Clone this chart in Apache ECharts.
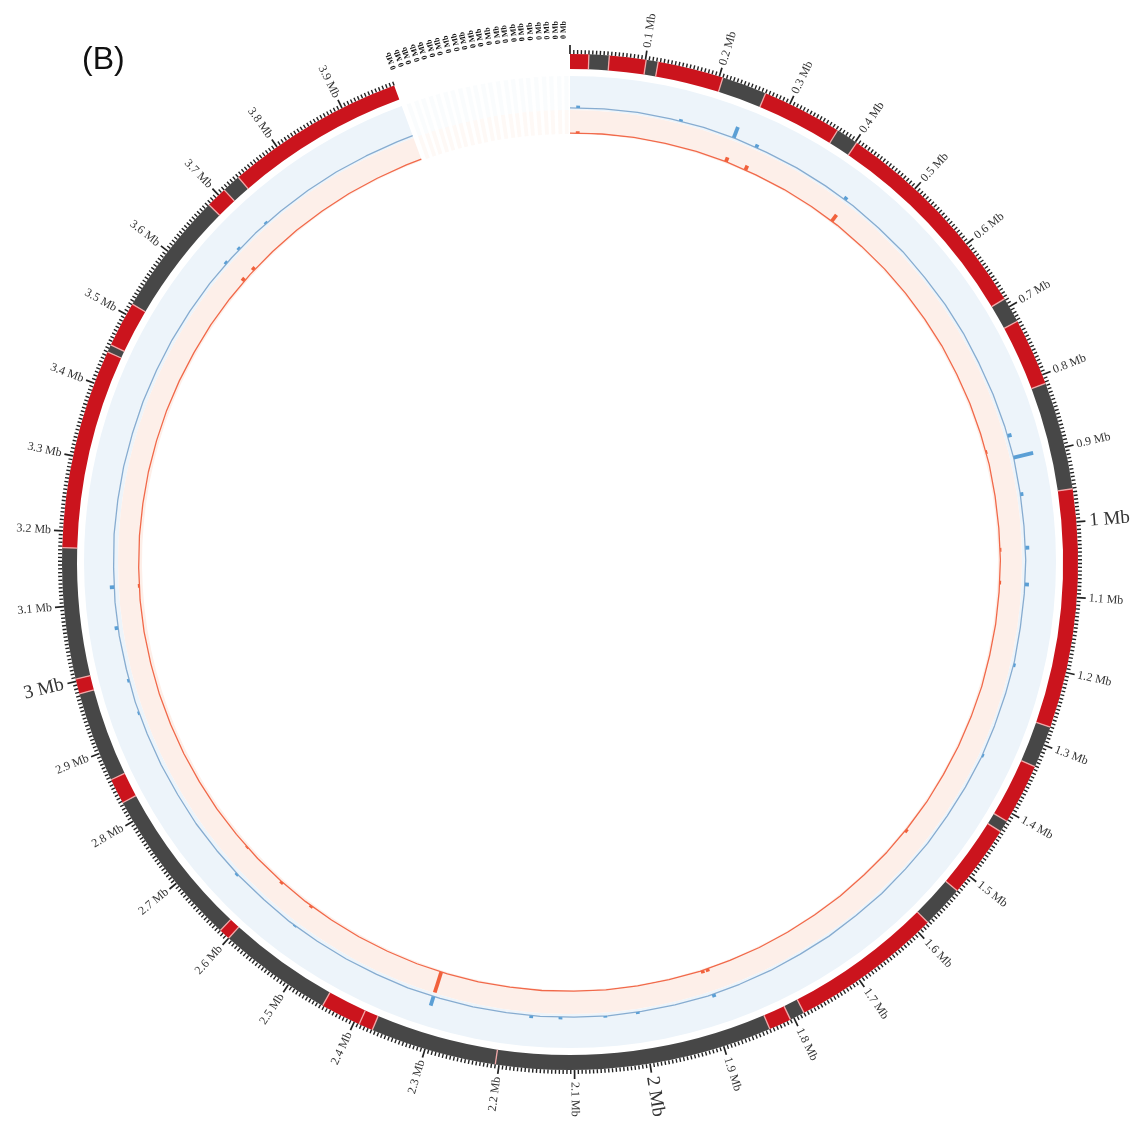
<!DOCTYPE html>
<html>
<head>
<meta charset="utf-8">
<title>Genome circle plot</title>
<script src="https://cdn.jsdelivr.net/npm/echarts@6/dist/echarts.min.js"></script>
<style>
  html, body { margin: 0; padding: 0; background: #ffffff; }
  #chart { width: 1143px; height: 1128px; }
</style>
</head>
<body>
<div id="chart"></div>
<script>
// ---- genome layout (Mb) ----
const TURN_MB = 4.212;      // genome coordinate mapped onto one full turn
const GENOME_END = 3.975;   // end of the main chromosome

// ideogram blocks: start positions (each block ends where the next starts) and colour class
const blockStart = [0, 0.025, 0.052, 0.101, 0.117, 0.205, 0.265, 0.372, 0.402, 0.688,
  0.722, 0.812, 0.956, 1.275, 1.331, 1.412, 1.428, 1.525, 1.582, 1.785,
  1.805, 1.835, 2.205, 2.374, 2.393, 2.447, 2.600, 2.615, 2.828, 2.862,
  2.983, 3.003, 3.178, 3.445, 3.455, 3.516, 3.682, 3.710, 3.735];
const blockKind = ['R', 'D', 'R', 'D', 'R', 'D', 'R', 'D', 'R', 'D',
  'R', 'D', 'R', 'D', 'R', 'D', 'R', 'D', 'R', 'D',
  'R', 'D', 'D', 'R', 'R', 'D', 'R', 'D', 'R', 'D',
  'R', 'D', 'R', 'D', 'R', 'D', 'R', 'D', 'R'];

// labelled ticks
const tickLabelMb = [0.1, 0.2, 0.3, 0.4, 0.5, 0.6, 0.7, 0.8, 0.9, 1.0,
  1.1, 1.2, 1.3, 1.4, 1.5, 1.6, 1.7, 1.8, 1.9, 2.0,
  2.1, 2.2, 2.3, 2.4, 2.5, 2.6, 2.7, 2.8, 2.9, 3.0,
  3.1, 3.2, 3.3, 3.4, 3.5, 3.6, 3.7, 3.8, 3.9];
const tickLabels = ['0.1 Mb', '0.2 Mb', '0.3 Mb', '0.4 Mb', '0.5 Mb', '0.6 Mb', '0.7 Mb', '0.8 Mb', '0.9 Mb', '1 Mb',
  '1.1 Mb', '1.2 Mb', '1.3 Mb', '1.4 Mb', '1.5 Mb', '1.6 Mb', '1.7 Mb', '1.8 Mb', '1.9 Mb', '2 Mb',
  '2.1 Mb', '2.2 Mb', '2.3 Mb', '2.4 Mb', '2.5 Mb', '2.6 Mb', '2.7 Mb', '2.8 Mb', '2.9 Mb', '3 Mb',
  '3.1 Mb', '3.2 Mb', '3.3 Mb', '3.4 Mb', '3.5 Mb', '3.6 Mb', '3.7 Mb', '3.8 Mb', '3.9 Mb'];

// small contigs placed after the chromosome
const smallContigMb = [3.982, 3.993, 4.003, 4.014, 4.024, 4.035, 4.045, 4.056, 4.067, 4.077, 4.088,
  4.098, 4.109, 4.120, 4.130, 4.141, 4.151, 4.162, 4.173, 4.183, 4.194, 4.204];
const smallContigLen = 0.006;
const smallContigLabel = '0 Mb';

// ---- data tracks: 0.05 Mb windows ----
const windowMb = [];
for (let i = 0; i < 80; i++) windowMb.push(+(i * 0.05).toFixed(2));
windowMb.push(GENOME_END);

// outer (blue) track, windows
const blueTrack = [0.06, 0.07, 0.08, 0.07, 0.08, 0.08, 0.07, 0.08, 0.08, 0.09,
  0.08, 0.09, 0.08, 0.09, 0.09, 0.08, 0.09, 0.10, 0.11, 0.10,
  0.10, 0.11, 0.10, 0.09, 0.10, 0.09, 0.09, 0.10, 0.09, 0.08,
  0.09, 0.08, 0.09, 0.08, 0.09, 0.08, 0.09, 0.09, 0.10, 0.09,
  0.09, 0.10, 0.09, 0.10, 0.09, 0.10, 0.10, 0.11, 0.10, 0.11,
  0.11, 0.12, 0.11, 0.12, 0.12, 0.13, 0.12, 0.13, 0.13, 0.14,
  0.13, 0.14, 0.14, 0.13, 0.14, 0.13, 0.13, 0.12, 0.12, 0.11,
  0.11, 0.10, 0.10, 0.09, 0.09, 0.08, 0.08, 0.08, 0.07, 0.07, 0.07];
// outer track peaks
const blueSpikeMb = [0.012, 0.165, 0.247, 0.283, 0.435, 0.865, 0.898, 0.953, 1.032, 1.086,
  1.206, 1.347, 1.891, 2.006, 2.054, 2.120, 2.163, 2.310, 2.540, 2.654,
  2.933, 2.983, 3.062, 3.122, 3.639, 3.667, 3.722];
const blueSpikeVal = [0.13, 0.13, 0.42, 0.17, 0.18, 0.22, 0.70, 0.19, 0.22, 0.22,
  0.16, 0.15, 0.19, 0.15, 0.15, 0.16, 0.17, 0.38, 0.15, 0.18,
  0.18, 0.19, 0.24, 0.26, 0.16, 0.16, 0.14];

// inner (red) track, windows
const redTrack = [0.04, 0.05, 0.06, 0.06, 0.07, 0.07, 0.06, 0.07, 0.07, 0.08,
  0.07, 0.08, 0.08, 0.08, 0.09, 0.08, 0.09, 0.09, 0.10, 0.09,
  0.09, 0.10, 0.09, 0.09, 0.08, 0.09, 0.08, 0.08, 0.07, 0.08,
  0.07, 0.07, 0.06, 0.07, 0.06, 0.06, 0.06, 0.05, 0.06, 0.05,
  0.05, 0.06, 0.05, 0.06, 0.06, 0.07, 0.07, 0.08, 0.08, 0.09,
  0.09, 0.10, 0.10, 0.11, 0.11, 0.12, 0.12, 0.13, 0.13, 0.14,
  0.14, 0.15, 0.15, 0.14, 0.14, 0.13, 0.13, 0.12, 0.12, 0.11,
  0.10, 0.10, 0.09, 0.09, 0.08, 0.08, 0.07, 0.07, 0.06, 0.06, 0.06];
const redSpikeMb = [0.012, 0.249, 0.282, 0.439, 0.880, 1.034, 1.085, 1.505, 1.888, 1.896,
  2.310, 2.538, 2.597, 2.674, 3.122, 3.637, 3.660];
const redSpikeVal = [0.12, 0.26, 0.26, 0.40, 0.15, 0.15, 0.15, 0.17, 0.18, 0.18,
  0.97, 0.18, 0.20, 0.16, 0.20, 0.24, 0.22];

// ---- styling ----
const CENTER = [570, 562];
const COLORS = {
  R: '#cb141d', D: '#474747', sep: '#f2a7a7',
  blueBand: '#edf4fa', pinkBand: '#fdefe9',
  blueLine: '#87acd0', blueSpike: '#5b9fd5',
  redLine: '#f1694a', redSpike: '#f1613c',
  tick: '#222222', label: '#333333'
};
const SERIF = '"Liberation Serif", "Times New Roman", serif';

// tick positions every 5 kb along the chromosome
const tickMb = [];
for (let k = 0; k * 0.005 <= GENOME_END + 1e-9; k++) tickMb.push(+(k * 0.005).toFixed(3));

function angleOf(cs, p) { return Math.atan2(p[1] - cs.cy, p[0] - cs.cx); }

function arcSector(params, api, s, e, style) {
  const cs = params.coordSys;
  const a0 = angleOf(cs, api.coord([1, s]));
  let a1 = angleOf(cs, api.coord([1, e]));
  while (a1 <= a0) a1 += Math.PI * 2;
  return {
    type: 'sector',
    shape: { cx: cs.cx, cy: cs.cy, r0: cs.r0, r: cs.r, startAngle: a0, endAngle: a1, clockwise: true },
    style: style
  };
}

// point at the outer edge of a polar plus unit outward direction
function outward(params, api, mb) {
  const cs = params.coordSys;
  const p = api.coord([1, mb]);
  const dx = p[0] - cs.cx, dy = p[1] - cs.cy;
  const len = Math.sqrt(dx * dx + dy * dy);
  return { x: p[0], y: p[1], ux: dx / len, uy: dy / len };
}

function valueAt(track, mb) {
  for (let i = 0; i < windowMb.length - 1; i++) {
    if (mb >= windowMb[i] && mb <= windowMb[i + 1]) {
      const t = (mb - windowMb[i]) / (windowMb[i + 1] - windowMb[i]);
      return track[i] + (track[i + 1] - track[i]) * t;
    }
  }
  return track[track.length - 1];
}

const angleAxisBase = {
  type: 'value', min: 0, max: TURN_MB, startAngle: 90, clockwise: true,
  axisLine: { show: false }, axisTick: { show: false }, axisLabel: { show: false },
  splitLine: { show: false }, splitArea: { show: false }
};
const radiusAxisBase = {
  type: 'value', min: 0, max: 1,
  axisLine: { show: false }, axisTick: { show: false }, axisLabel: { show: false },
  splitLine: { show: false }, splitArea: { show: false }
};

const option = {
  backgroundColor: '#ffffff',
  animation: false,
  polar: [
    { center: CENTER, radius: [493, 508] },   // ideogram
    { center: CENTER, radius: [452, 486] },   // outer track
    { center: CENTER, radius: [428, 452] }    // inner track
  ],
  angleAxis: [0, 1, 2].map(i => Object.assign({ polarIndex: i }, angleAxisBase)),
  radiusAxis: [0, 1, 2].map(i => Object.assign({ polarIndex: i }, radiusAxisBase)),
  graphic: [{
    type: 'text', left: 82, top: 44,
    style: { text: '(B)', font: '32px "Liberation Sans", Arial, sans-serif', fill: '#111111' }
  }],
  series: [
    // track backgrounds
    {
      type: 'custom', coordinateSystem: 'polar', polarIndex: 1, silent: true, z: 1,
      data: [[0, 0]],
      renderItem: (params, api) => arcSector(params, api, 0, GENOME_END, { fill: COLORS.blueBand })
    },
    {
      type: 'custom', coordinateSystem: 'polar', polarIndex: 2, silent: true, z: 1,
      data: [[0, 0]],
      renderItem: (params, api) => arcSector(params, api, 0, GENOME_END, { fill: COLORS.pinkBand })
    },
    // small contig track backgrounds
    {
      type: 'custom', coordinateSystem: 'polar', polarIndex: 1, silent: true, z: 1,
      data: smallContigMb.map(m => [0, m]),
      renderItem: (params, api) => {
        const s = smallContigMb[params.dataIndex];
        return arcSector(params, api, s, s + smallContigLen, { fill: COLORS.blueBand, opacity: 0.3 });
      }
    },
    {
      type: 'custom', coordinateSystem: 'polar', polarIndex: 2, silent: true, z: 1,
      data: smallContigMb.map(m => [0, m]),
      renderItem: (params, api) => {
        const s = smallContigMb[params.dataIndex];
        return arcSector(params, api, s, s + smallContigLen, { fill: COLORS.pinkBand, opacity: 0.4 });
      }
    },
    // ideogram blocks
    {
      type: 'custom', coordinateSystem: 'polar', polarIndex: 0, silent: true, z: 2,
      data: blockStart.map(m => [0, m]),
      renderItem: (params, api) => {
        const i = params.dataIndex;
        const s = blockStart[i];
        const e = i + 1 < blockStart.length ? blockStart[i + 1] : GENOME_END;
        return arcSector(params, api, s, e, { fill: COLORS[blockKind[i]] });
      }
    },
    // block separators
    {
      type: 'custom', coordinateSystem: 'polar', polarIndex: 0, silent: true, z: 3,
      data: blockStart.slice(1).map(m => [0, m]),
      renderItem: (params, api) => {
        const m = blockStart[params.dataIndex + 1];
        const a = api.coord([0, m]), b = api.coord([1, m]);
        return { type: 'line', shape: { x1: a[0], y1: a[1], x2: b[0], y2: b[1] },
          style: { stroke: COLORS.sep, lineWidth: 1.3 } };
      }
    },
    // scale ticks
    {
      type: 'custom', coordinateSystem: 'polar', polarIndex: 0, silent: true, z: 3,
      data: tickMb.map(m => [1, m]),
      renderItem: (params, api) => {
        const m = tickMb[params.dataIndex];
        const major = Math.abs(m * 10 - Math.round(m * 10)) < 1e-6;
        const o = outward(params, api, m);
        const len = major ? 9 : 4;
        return { type: 'line',
          shape: { x1: o.x, y1: o.y, x2: o.x + o.ux * len, y2: o.y + o.uy * len },
          style: { stroke: COLORS.tick, lineWidth: major ? 1.7 : 1.4 } };
      }
    },
    // scale labels
    {
      type: 'custom', coordinateSystem: 'polar', polarIndex: 0, silent: true, z: 3,
      data: tickLabelMb.map(m => [1, m]),
      renderItem: (params, api) => {
        const i = params.dataIndex;
        const m = tickLabelMb[i];
        const o = outward(params, api, m);
        const big = Math.abs(m - Math.round(m)) < 1e-6;
        const gap = big ? 13 : 12;
        const flip = o.ux < 0;
        let rot = -Math.atan2(o.uy, o.ux);
        if (flip) rot += Math.PI;
        return { type: 'text', x: o.x + o.ux * gap, y: o.y + o.uy * gap, rotation: rot,
          style: { text: tickLabels[i], fill: COLORS.label,
            font: (big ? '19px ' : '12px ') + SERIF,
            align: flip ? 'right' : 'left', textAlign: flip ? 'right' : 'left',
            verticalAlign: 'middle', textVerticalAlign: 'middle' } };
      }
    },
    // small contig labels
    {
      type: 'custom', coordinateSystem: 'polar', polarIndex: 0, silent: true, z: 3,
      data: smallContigMb.map(m => [1, m]),
      renderItem: (params, api) => {
        const m = smallContigMb[params.dataIndex];
        const o = outward(params, api, m);
        const rot = -Math.atan2(o.uy, o.ux);
        return { type: 'text', x: o.x + o.ux * 15, y: o.y + o.uy * 15, rotation: rot,
          style: { text: smallContigLabel, fill: '#111111', font: 'bold 8px ' + SERIF,
            align: 'left', textAlign: 'left', verticalAlign: 'middle', textVerticalAlign: 'middle' } };
      }
    },
    // outer track line
    {
      type: 'line', coordinateSystem: 'polar', polarIndex: 1, z: 4, silent: true,
      symbol: 'none', clip: false,
      lineStyle: { color: COLORS.blueLine, width: 1.3 },
      data: windowMb.map((m, i) => [blueTrack[i], m])
    },
    // inner track line
    {
      type: 'line', coordinateSystem: 'polar', polarIndex: 2, z: 4, silent: true,
      symbol: 'none', clip: false,
      lineStyle: { color: COLORS.redLine, width: 1.3 },
      data: windowMb.map((m, i) => [redTrack[i], m])
    },
    // outer track peaks
    {
      type: 'custom', coordinateSystem: 'polar', polarIndex: 1, silent: true, z: 5,
      data: blueSpikeMb.map((m, i) => [blueSpikeVal[i], m]),
      renderItem: (params, api) => {
        const i = params.dataIndex;
        const m = blueSpikeMb[i];
        const a = api.coord([valueAt(blueTrack, m), m]);
        const b = api.coord([blueSpikeVal[i], m]);
        return { type: 'line', shape: { x1: a[0], y1: a[1], x2: b[0], y2: b[1] },
          style: { stroke: COLORS.blueSpike, lineWidth: 3.8 } };
      }
    },
    // inner track peaks
    {
      type: 'custom', coordinateSystem: 'polar', polarIndex: 2, silent: true, z: 5,
      data: redSpikeMb.map((m, i) => [redSpikeVal[i], m]),
      renderItem: (params, api) => {
        const i = params.dataIndex;
        const m = redSpikeMb[i];
        const a = api.coord([valueAt(redTrack, m), m]);
        const b = api.coord([redSpikeVal[i], m]);
        return { type: 'line', shape: { x1: a[0], y1: a[1], x2: b[0], y2: b[1] },
          style: { stroke: COLORS.redSpike, lineWidth: 3.8 } };
      }
    }
  ]
};

const chart = echarts.init(document.getElementById('chart'), null, { renderer: 'canvas' });
chart.setOption(option);
</script>
</body>
</html>
